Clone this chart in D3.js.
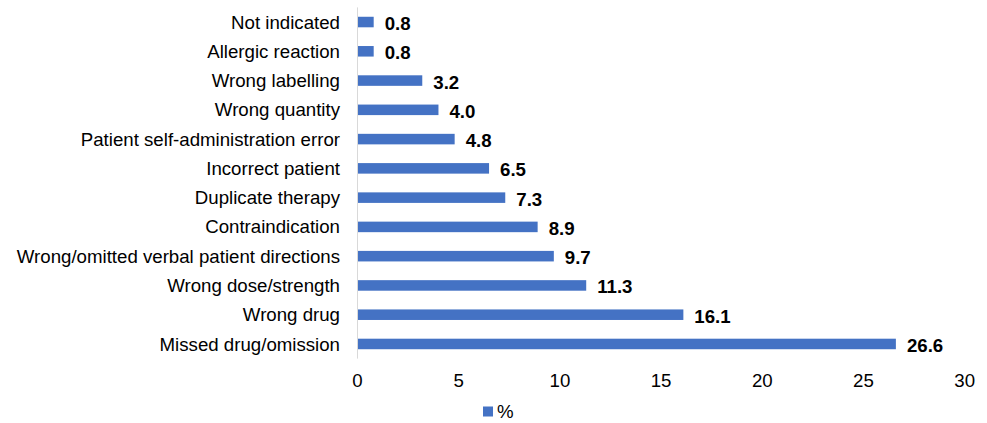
<!DOCTYPE html>
<html><head><meta charset="utf-8">
<script src="https://cdn.jsdelivr.net/npm/d3@7"></script>
<style>body{margin:0;background:#fff}svg{display:block}text{font-family:"Liberation Sans",Arial,sans-serif}</style>
</head><body><svg id="c" width="987" height="423"></svg>
<script>
const categories = ["Not indicated","Allergic reaction","Wrong labelling","Wrong quantity","Patient self-administration error","Incorrect patient","Duplicate therapy","Contraindication","Wrong/omitted verbal patient directions","Wrong dose/strength","Wrong drug","Missed drug/omission"];
const values = [0.8,0.8,3.2,4.0,4.8,6.5,7.3,8.9,9.7,11.3,16.1,26.6];
const xTicks = [0,5,10,15,20,25,30];
const seriesName = "%";

const svg = d3.select("#c");
const fs = 18.67;
const x = d3.scaleLinear().domain([0,30]).range([357.5,964.7]);
const y = d3.scaleBand().domain(categories).range([7.4,358.6]).paddingInner(0.64).paddingOuter(0.32);
const color = "#4472C4";

svg.selectAll("rect.bar").data(values).join("rect").attr("class","bar")
  .attr("x",x(0)).attr("y",(d,i)=>y(categories[i]))
  .attr("width",d=>x(d)-x(0)).attr("height",y.bandwidth()).attr("fill",color);

svg.append("line").attr("x1",x(0)).attr("x2",x(0)).attr("y1",7.4).attr("y2",358.6)
  .attr("stroke","#d9d9d9").attr("stroke-width",1);

svg.selectAll("text.cat").data(categories).join("text").attr("class","cat")
  .attr("x",340).attr("y",d=>y(d)+y.bandwidth()/2).attr("dy","0.35em")
  .attr("text-anchor","end").attr("font-size",fs).attr("fill","#000").text(d=>d);

svg.selectAll("text.val").data(values).join("text").attr("class","val")
  .attr("x",d=>x(d)+11).attr("y",(d,i)=>y(categories[i])+y.bandwidth()/2+1.5).attr("dy","0.35em")
  .attr("font-size",fs).attr("font-weight","bold").attr("fill","#000").text(d=>d.toFixed(1));

svg.selectAll("text.tick").data(xTicks).join("text").attr("class","tick")
  .attr("x",d=>x(d)).attr("y",380).attr("dy","0.35em").attr("text-anchor","middle")
  .attr("font-size",fs).attr("fill","#000").text(d=>d);

const lg = svg.append("g");
lg.append("rect").attr("x",483).attr("y",406.5).attr("width",10).attr("height",10).attr("fill",color);
lg.append("text").attr("x",497).attr("y",411.5).attr("dy","0.35em").attr("font-size",fs).attr("fill","#000").text(seriesName);
</script></body></html>
